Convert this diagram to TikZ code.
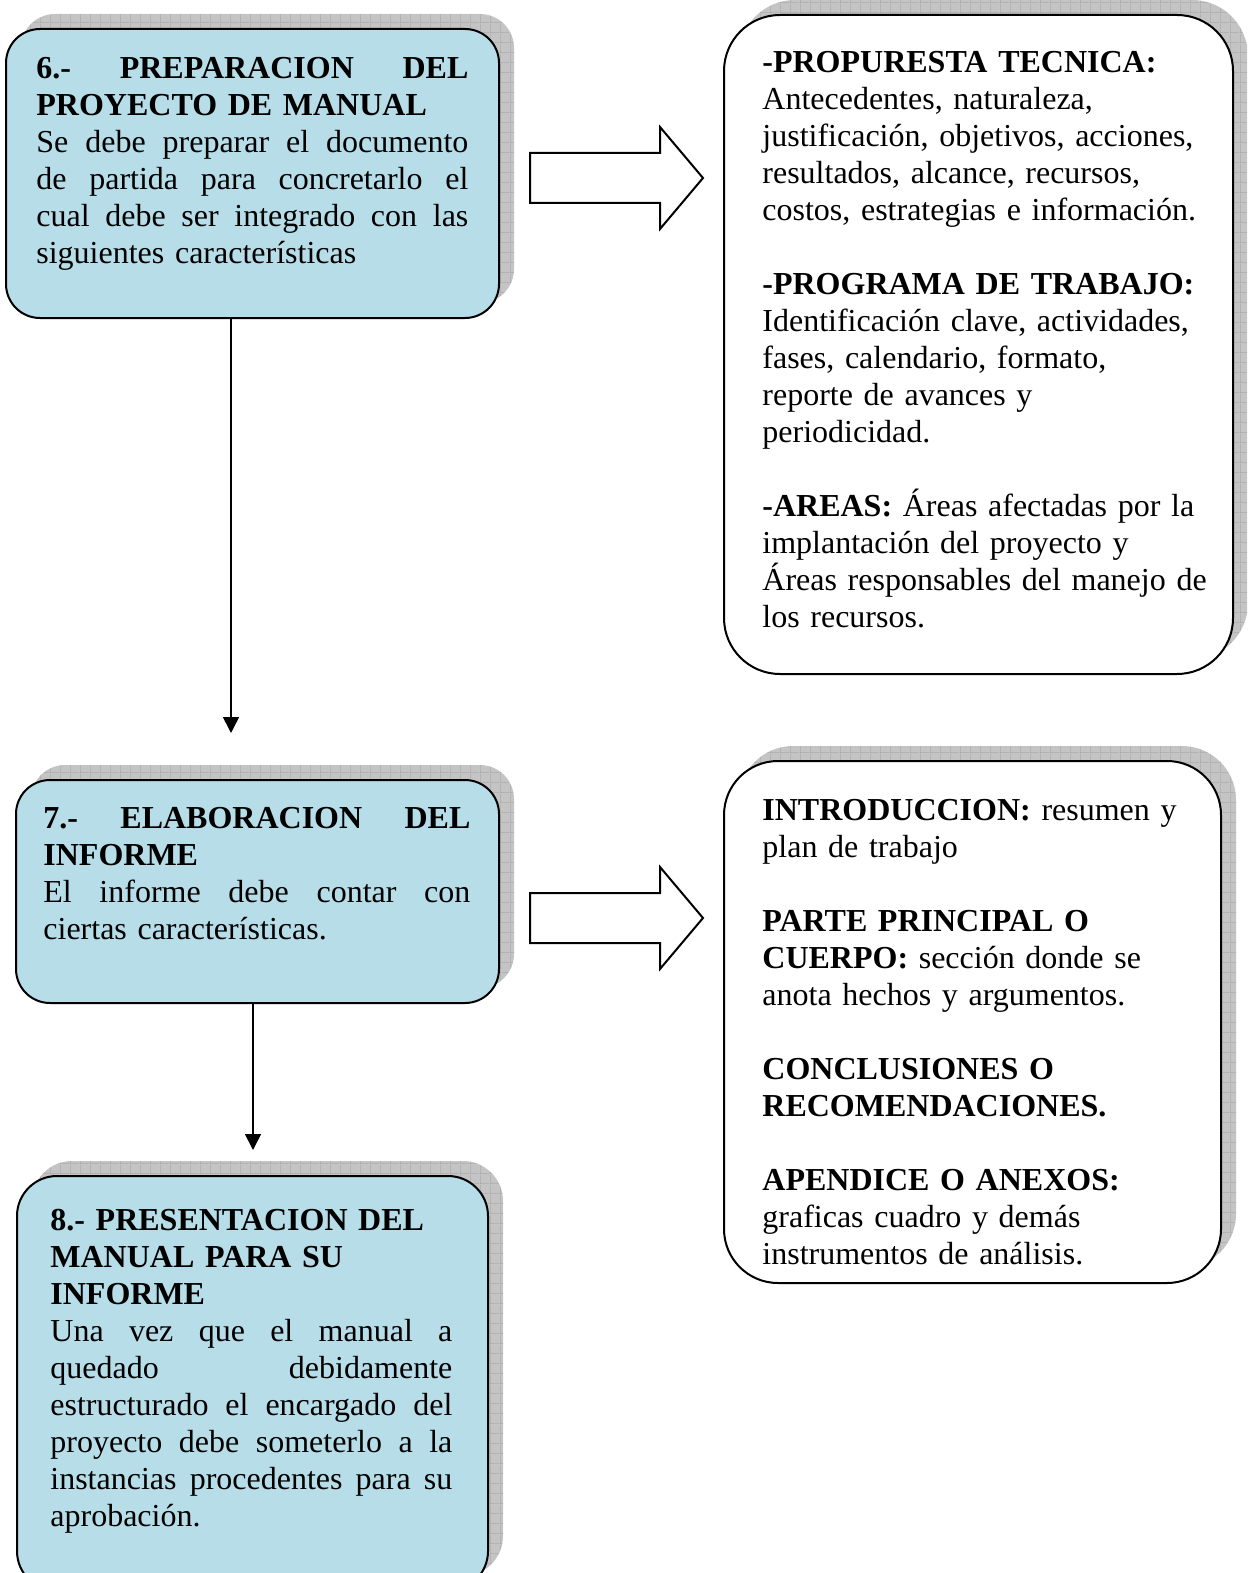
\documentclass[tikz,border=0pt]{standalone}
\usepackage{fontspec}
\setmainfont{Liberation Serif}
\usetikzlibrary{arrows.meta,shadows,patterns.meta}

\definecolor{boxblue}{RGB}{183,221,232}
\definecolor{shadowgray}{RGB}{196,196,196}
\definecolor{gridgray}{RGB}{150,150,150}

\tikzdeclarepattern{name=shadowgrid, type=uncolored,
  bottom left={(0pt,0pt)}, top right={(5pt,5pt)}, tile size={(5pt,5pt)},
  code={\draw[line width=0.4pt] (0pt,0pt) -- (5pt,0pt) (0pt,0pt) -- (0pt,5pt);}}

\newcommand{\jl}[1]{\leavevmode\hbox to \hsize{\spaceskip=0.25em plus 1fil\relax #1}}
\newcommand{\bigarrow}[1]{\draw[blockarrow] (#1) ++(0,-25) -- ++(130,0) -- ++(0,-26) -- ++(43,51) -- ++(-43,51) -- ++(0,-26) -- ++(-130,0) -- cycle;}

\tikzset{
  card/.style={draw, line width=1pt, rounded corners=#1, anchor=north west, inner sep=0pt,
    general shadow={shadow xshift=7.5pt, shadow yshift=7.5pt, fill=shadowgray,
      postaction={pattern={shadowgrid}, pattern color=gridgray}}},
  txt/.style={anchor=north west, inner sep=0pt, align=left, text width=#1,
    font=\fontsize{16pt}{18.5pt}\selectfont},
  flow/.style={line width=0.8pt, -{Triangle[width=8pt,length=8pt]}},
  blockarrow/.style={draw, line width=1pt, fill=white, line join=miter}
}

\begin{document}
\begin{tikzpicture}[x=0.5pt, y=-0.5pt]
\useasboundingbox (0,0) rectangle (1247,1573);
\clip (0,0) rectangle (1247,1573);

%%% cajas azules
\node[card=17pt, fill=boxblue, minimum width=246.5pt, minimum height=144.5pt] (b6) at (5,28) {};
\node[card=17pt, fill=boxblue, minimum width=241.5pt, minimum height=111.5pt] (b7) at (15,779) {};
\node[card=20pt, fill=boxblue, minimum width=235.5pt, minimum height=207.5pt] (b8) at (16,1175) {};

%%% cajas blancas
\node[card=28pt, fill=white, minimum width=254.5pt, minimum height=329.5pt] (r6) at (723,14) {};
\node[card=27pt, fill=white, minimum width=248.5pt, minimum height=261pt] (r7) at (723,760) {};

%%% textos
\node[txt=216pt] (t6) at (36,57) {\jl{\textbf{6.- PREPARACION DEL}}\\
  \textbf{PROYECTO DE MANUAL}\\
  \jl{Se debe preparar el documento}\\
  \jl{de partida para concretarlo el}\\
  \jl{cual debe ser integrado con las}\\
  siguientes características};

\node[txt=213.5pt] (t7) at (43,807) {\jl{\textbf{7.- ELABORACION DEL}}\\
  \textbf{INFORME}\\
  \jl{El informe debe contar con}\\
  ciertas características.};

\node[txt=201pt] (t8) at (50,1209) {\textbf{8.- PRESENTACION DEL}\\
  \textbf{MANUAL PARA SU}\\
  \textbf{INFORME}\\
  \jl{Una vez que el manual a}\\
  \jl{quedado debidamente}\\
  \jl{estructurado el encargado del}\\
  \jl{proyecto debe someterlo a la}\\
  \jl{instancias procedentes para su}\\
  aprobación.};

\node[txt=240pt] (tr6) at (762,51) {\textbf{-PROPURESTA TECNICA:}\\
  Antecedentes, naturaleza,\\
  justificación, objetivos, acciones,\\
  resultados, alcance, recursos,\\
  costos, estrategias e información.\\[18.5pt]
  \textbf{-PROGRAMA DE TRABAJO:}\\
  Identificación clave, actividades,\\
  fases, calendario, formato,\\
  reporte de avances y\\
  periodicidad.\\[18.5pt]
  \textbf{-AREAS:} Áreas afectadas por la\\
  implantación del proyecto y\\
  Áreas responsables del manejo de\\
  los recursos.};

\node[txt=240pt] (tr7) at (762,799) {\textbf{INTRODUCCION:} resumen y\\
  plan de trabajo\\[18.5pt]
  \textbf{PARTE PRINCIPAL O}\\
  \textbf{CUERPO:} sección donde se\\
  anota hechos y argumentos.\\[18.5pt]
  \textbf{CONCLUSIONES O}\\
  \textbf{RECOMENDACIONES.}\\[18.5pt]
  \textbf{APENDICE O ANEXOS:}\\
  graficas cuadro y demás\\
  instrumentos de análisis.};

%%% flechas
\bigarrow{530,178}
\bigarrow{530,918}

\coordinate (p67) at (231,733);
\coordinate (p78) at (253,1150);
\draw[flow] (b6.south -| p67) -- (p67);
\draw[flow] (b7.south -| p78) -- (p78);

\end{tikzpicture}
\end{document}
